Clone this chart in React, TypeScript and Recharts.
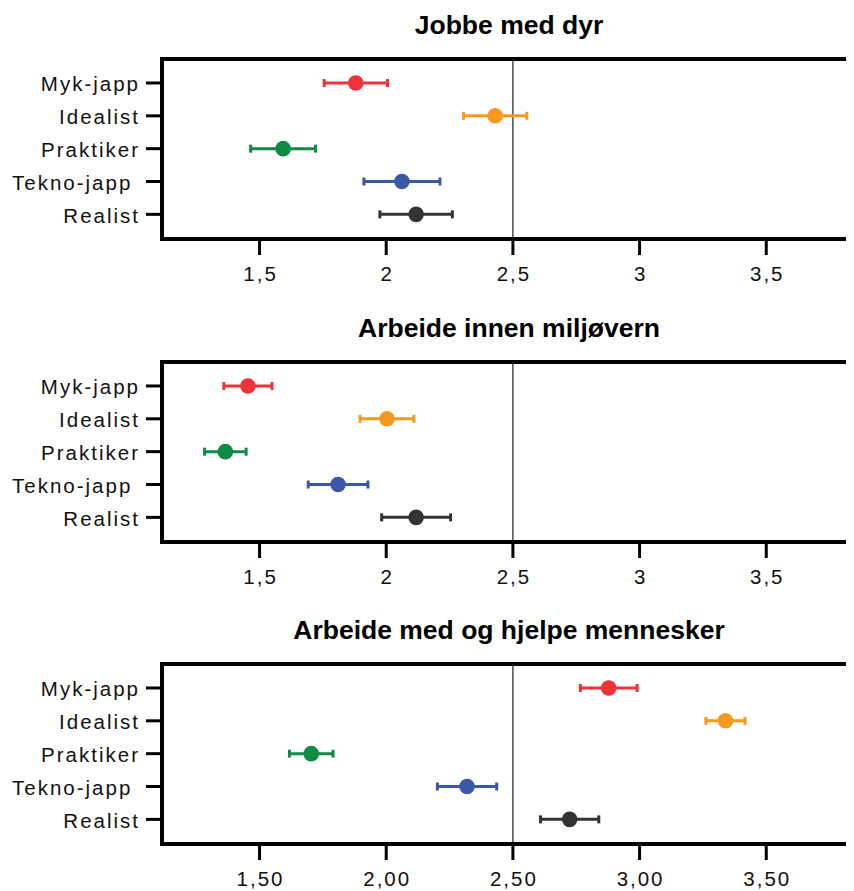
import { ErrorBar, ReferenceLine, Scatter, ScatterChart, XAxis, YAxis } from "recharts";

const categories = ["Myk-japp", "Idealist", "Praktiker", "Tekno-japp ", "Realist"];
const colors = ["#ee3339", "#f7991f", "#0f8b45", "#3b57a8", "#333333"];

const titles = ["Jobbe med dyr", "Arbeide innen miljøvern", "Arbeide med og hjelpe mennesker"];

const dyrMeans = [1.88, 2.43, 1.593, 2.062, 2.118];
const dyrErrors = [0.125, 0.125, 0.128, 0.15, 0.143];

const miljoMeans = [1.454, 2.003, 1.365, 1.81, 2.118];
const miljoErrors = [0.095, 0.106, 0.082, 0.118, 0.136];

const menneskerMeans = [2.878, 3.339, 1.704, 2.319, 2.724];
const menneskerErrors = [0.112, 0.077, 0.086, 0.117, 0.115];

const xTicks = [1.5, 2, 2.5, 3, 3.5];
const yTicks = [0, 1, 2, 3, 4];

const FONT = "'Liberation Sans', Arial, sans-serif";
const LABEL_SIZE = 20.5;
const LABEL_SPACING = 2;

const CHART_W = 852;
const CHART_H = 300;
const PANEL_TOPS = [1, 304, 606];

const fmtShort = (v: number) => String(v).replace(".", ",");
const fmtFixed = (v: number) => v.toFixed(2).replace(".", ",");

function XTick({ x, y, payload, fmt }: any) {
  return (
    <text
      x={x + LABEL_SPACING / 2}
      y={y}
      dy="0.71em"
      textAnchor="middle"
      fill="#111"
      fontFamily={FONT}
      fontSize={LABEL_SIZE}
      letterSpacing={LABEL_SPACING}
    >
      {fmt(payload.value)}
    </text>
  );
}

function YTick({ x, y, payload }: any) {
  return (
    <text
      x={x}
      y={y}
      dy="0.4em"
      textAnchor="end"
      fill="#111"
      fontFamily={FONT}
      fontSize={LABEL_SIZE}
      letterSpacing={LABEL_SPACING}
      style={{ whiteSpace: "pre" }}
    >
      {categories[payload.value]}
    </text>
  );
}

function Panel({ means, errors, fmt }: { means: number[]; errors: number[]; fmt: (v: number) => string }) {
  return (
    <ScatterChart width={CHART_W} height={CHART_H} margin={{ top: 50, right: 0, bottom: 0, left: 0 }}>
      <XAxis
        type="number"
        dataKey="x"
        domain={[1.115, 3.87]}
        allowDataOverflow
        ticks={xTicks}
        height={70}
        tickSize={16}
        tickMargin={11}
        axisLine={{ stroke: "#000", strokeWidth: 4, strokeLinecap: "square" }}
        tickLine={{ stroke: "#000", strokeWidth: 3 }}
        tick={<XTick fmt={fmt} />}
      />
      <YAxis
        type="number"
        dataKey="y"
        domain={[-0.73, 4.75]}
        allowDataOverflow
        reversed
        ticks={yTicks}
        interval={0}
        width={154}
        tickSize={16}
        tickMargin={6}
        axisLine={{ stroke: "#000", strokeWidth: 4, strokeLinecap: "square" }}
        tickLine={{ stroke: "#000", strokeWidth: 3 }}
        tick={<YTick />}
      />
      <ReferenceLine y={-0.73} stroke="#000" strokeWidth={4} />
      <ReferenceLine x={2.5} stroke="#222" strokeWidth={1.2} />
      {categories.map((name, i) => (
        <Scatter
          key={name}
          name={name}
          data={[{ x: means[i], y: i, err: errors[i] }]}
          fill={colors[i]}
          isAnimationActive={false}
          shape={(p: any) => <circle cx={p.cx} cy={p.cy} r={7.8} fill={colors[i]} />}
        >
          <ErrorBar
            dataKey="err"
            direction="x"
            width={4}
            stroke={colors[i]}
            strokeWidth={3}
            isAnimationActive={false}
          />
        </Scatter>
      ))}
    </ScatterChart>
  );
}

export default function App() {
  const panels = [
    { means: dyrMeans, errors: dyrErrors, fmt: fmtShort },
    { means: miljoMeans, errors: miljoErrors, fmt: fmtShort },
    { means: menneskerMeans, errors: menneskerErrors, fmt: fmtFixed },
  ];
  return (
    <div style={{ position: "relative", width: 846, height: 883, overflow: "hidden", background: "#fff" }}>
      {panels.map((p, i) => (
        <div key={titles[i]} style={{ position: "absolute", left: 0, top: PANEL_TOPS[i] }}>
          <Panel means={p.means} errors={p.errors} fmt={p.fmt} />
        </div>
      ))}
      <svg width={846} height={883} style={{ position: "absolute", left: 0, top: 0, pointerEvents: "none" }}>
        {titles.map((t, i) => (
          <text
            key={t}
            x={501}
            y={PANEL_TOPS[i] + 50 - 25}
            textAnchor="middle"
            fontFamily={FONT}
            fontSize={26.5}
            fontWeight="bold"
            fill="#000"
          >
            {t}
          </text>
        ))}
      </svg>
    </div>
  );
}
